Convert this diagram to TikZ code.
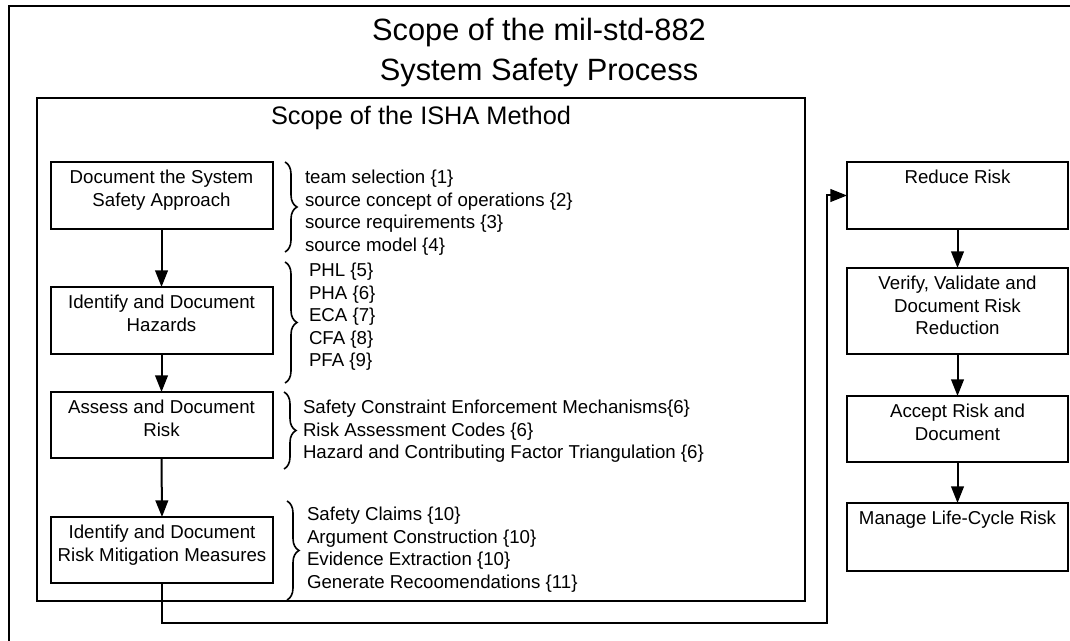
\documentclass[tikz,border=0pt]{standalone}
\usepackage{fontspec}
\setmainfont{Liberation Sans}
\usetikzlibrary{arrows.meta,decorations.pathreplacing}
\begin{document}
\begin{tikzpicture}[x=0.75pt,y=-0.75pt,
  every node/.style={inner sep=0pt, outer sep=0pt},
  stagebox/.style={draw, line width=1.5pt, minimum width=166.5pt},
  boxtext/.style={anchor=north, align=center, font=\fontsize{14}{16.9}\selectfont},
  itemlist/.style={anchor=north west, align=left, font=\fontsize{14}{16.9}\selectfont},
  flow/.style={line width=1.5pt, -{Triangle[length=12.5pt,width=9.5pt]}},
  bracket/.style={line width=1.2pt, decorate, decoration={brace, amplitude=9pt}},
  frame/.style={line width=1.5pt}]

\useasboundingbox (0,0) rectangle (1070,641);
\fill[white] (0,0) rectangle (1070,641);

% outer scope: mil-std-882 process
\coordinate (outerbl) at (9,641);
\coordinate (outertl) at (9,6);
\coordinate (outertr) at (1070,6);
\draw[frame] (outerbl) -- (outertl) -- (outertr);
\node[anchor=north, align=center, font=\fontsize{23.1}{30}\selectfont] (title) at (539,18)
  {Scope of the mil-std-882\\System Safety Process};

% inner scope: ISHA method
\node[draw, line width=1.5pt, minimum width=576pt, minimum height=377.25pt] (isha) at (421,349.5) {};
\node[anchor=north, font=\fontsize{19}{23}\selectfont] (ishatitle) at (421,106.5) {Scope of the ISHA Method};

% left column stages
\node[stagebox, minimum height=50.25pt] (b1) at (161.5,195.5) {};
\node[stagebox, minimum height=50.25pt] (b2) at (161.5,320.5) {};
\node[stagebox, minimum height=49.5pt] (b3) at (161.5,425) {};
\node[stagebox, minimum height=49.5pt] (b4) at (162,550) {};
\node[boxtext] (t1) at ([yshift=-6pt]b1.north) {Document the System\\Safety Approach};
\node[boxtext] (t2) at ([yshift=-6pt]b2.north) {Identify and Document\\Hazards};
\node[boxtext] (t3) at ([yshift=-6pt]b3.north) {Assess and Document\\Risk};
\node[boxtext] (t4) at ([yshift=-6pt]b4.north) {Identify and Document\\Risk Mitigation Measures};

% right column stages
\node[stagebox, minimum width=165.75pt, minimum height=50.25pt] (r1) at (957.5,195.5) {};
\node[stagebox, minimum width=165.75pt, minimum height=64.5pt] (r2) at (957.5,311) {};
\node[stagebox, minimum width=165.75pt, minimum height=49.5pt] (r3) at (957.5,429) {};
\node[stagebox, minimum width=165.75pt, minimum height=51pt] (r4) at (957.5,537) {};
\node[boxtext] (u1) at ([yshift=-6pt]r1.north) {Reduce Risk};
\node[boxtext] (u2) at ([yshift=-6pt]r2.north) {Verify, Validate and\\Document Risk\\Reduction};
\node[boxtext] (u3) at ([yshift=-6pt]r3.north) {Accept Risk and\\Document};
\node[boxtext] (u4) at ([yshift=-6pt]r4.north) {Manage Life-Cycle Risk};

% braces and the activities they group
\draw[bracket] (285,162) -- (285,252);
\draw[bracket] (285,262) -- (285,383);
\draw[bracket] (284,392) -- (284,469);
\draw[bracket] (287,501) -- (287,600);

\node[itemlist] (l1) at (305,170) {team selection \{1\}\\source concept of operations \{2\}\\source requirements \{3\}\\source model \{4\}};
\node[itemlist] (l2) at (309,263) {PHL \{5\}\\PHA \{6\}\\ECA \{7\}\\CFA \{8\}\\PFA \{9\}};
\node[itemlist] (l3) at (303,400) {Safety Constraint Enforcement Mechanisms\{6\}\\Risk Assessment Codes \{6\}\\Hazard and Contributing Factor Triangulation \{6\}};
\node[itemlist] (l4) at (307,507) {Safety Claims \{10\}\\Argument Construction \{10\}\\Evidence Extraction \{10\}\\Generate Recoomendations \{11\}};

% flow between stages
\draw[flow] (b1.south) -- (b2.north);
\draw[flow] (b2.south) -- (b3.north);
\draw[flow] (b3.south) -- (b4.north);
\draw[flow] (r1.south) -- (r2.north);
\draw[flow] (r2.south) -- (r3.north);
\draw[flow] (r3.south) -- (r4.north);

\coordinate (lowturn) at (827,623);
\draw[flow] (b4.south) |- (lowturn) |- (r1.west);

\end{tikzpicture}
\end{document}
